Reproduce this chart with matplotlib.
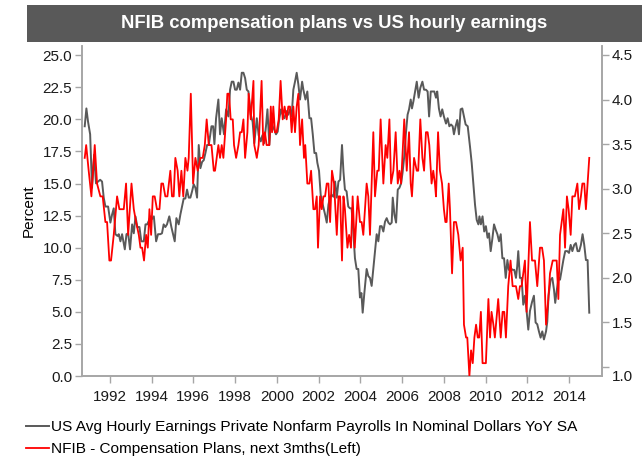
import matplotlib
matplotlib.use("Agg")
import matplotlib.pyplot as plt
from matplotlib.patches import Rectangle
from matplotlib.lines import Line2D
import matplotlib.transforms as mtransforms

plt.rcParams['font.family'] = ['Liberation Sans', 'DejaVu Sans']

title = "NFIB compensation plans vs US hourly earnings"
label_gray = "US Avg Hourly Earnings Private Nonfarm Payrolls In Nominal Dollars YoY SA"
label_red = "NFIB - Compensation Plans, next 3mths(Left)"
left_ylabel = "Percent"

year_ticks = [1992, 1994, 1996, 1998, 2000, 2002, 2004, 2006, 2008, 2010, 2012, 2014]
left_ticks = [0.0, 2.5, 5.0, 7.5, 10.0, 12.5, 15.0, 17.5, 20.0, 22.5, 25.0]
right_ticks = [1.0, 1.5, 2.0, 2.5, 3.0, 3.5, 4.0, 4.5]

# NFIB compensation plans (left axis)
red_years = [1990.80, 1990.87, 1990.99, 1991.12, 1991.28, 1991.39, 1991.55, 1991.66, 1991.79, 1991.87,
             1991.98, 1992.06, 1992.19, 1992.35, 1992.46, 1992.67, 1992.78, 1992.88, 1993.04, 1993.15,
             1993.26, 1993.39, 1993.47, 1993.55, 1993.64, 1993.74, 1993.82, 1993.90, 1993.98, 1994.06,
             1994.15, 1994.26, 1994.38, 1994.47, 1994.55, 1994.66, 1994.76, 1994.90, 1994.98, 1995.06,
             1995.14, 1995.25, 1995.33, 1995.43, 1995.52, 1995.62, 1995.72, 1995.78, 1995.88, 1995.99,
             1996.10, 1996.21, 1996.34, 1996.45, 1996.55, 1996.64, 1996.74, 1996.87, 1996.98, 1997.04,
             1997.20, 1997.28, 1997.36, 1997.44, 1997.57, 1997.63, 1997.71, 1997.79, 1997.89, 1997.95,
             1998.05, 1998.16, 1998.24, 1998.32, 1998.40, 1998.48, 1998.59, 1998.65, 1998.75, 1998.88,
             1998.92, 1999.04, 1999.13, 1999.27, 1999.35, 1999.43, 1999.51, 1999.64, 1999.71, 1999.77,
             1999.83, 1999.91, 1999.99, 2000.09, 2000.18, 2000.28, 2000.37, 2000.47, 2000.55, 2000.63,
             2000.71, 2000.79, 2000.87, 2000.95, 2001.03, 2001.11, 2001.21, 2001.30, 2001.36, 2001.46,
             2001.56, 2001.64, 2001.75, 2001.83, 2001.91, 2001.97, 2002.07, 2002.15, 2002.23, 2002.31,
             2002.39, 2002.47, 2002.55, 2002.64, 2002.74, 2002.87, 2002.95, 2003.03, 2003.12, 2003.19,
             2003.26, 2003.38, 2003.46, 2003.55, 2003.63, 2003.73, 2003.87, 2003.98, 2004.06, 2004.14,
             2004.30, 2004.38, 2004.46, 2004.62, 2004.70, 2004.81, 2004.88, 2004.97, 2005.10, 2005.21,
             2005.29, 2005.39, 2005.47, 2005.58, 2005.69, 2005.79, 2005.87, 2005.95, 2006.10, 2006.22,
             2006.33, 2006.41, 2006.47, 2006.57, 2006.70, 2006.77, 2006.87, 2006.97, 2007.05, 2007.14,
             2007.22, 2007.30, 2007.41, 2007.49, 2007.57, 2007.62, 2007.72, 2007.81, 2007.91, 2008.00,
             2008.07, 2008.13, 2008.23, 2008.29, 2008.39, 2008.48, 2008.58, 2008.69, 2008.80, 2008.90,
             2008.96, 2009.06, 2009.12, 2009.22, 2009.30, 2009.38, 2009.46, 2009.54, 2009.62, 2009.69,
             2009.77, 2009.85, 2010.01, 2010.13, 2010.21, 2010.28, 2010.37, 2010.44, 2010.60, 2010.72,
             2010.81, 2010.89, 2010.97, 2011.08, 2011.19, 2011.29, 2011.37, 2011.45, 2011.56, 2011.64,
             2011.72, 2011.88, 2011.96, 2012.12, 2012.22, 2012.36, 2012.47, 2012.60, 2012.70, 2012.79,
             2012.89, 2013.00, 2013.08, 2013.21, 2013.32, 2013.40, 2013.48, 2013.56, 2013.64, 2013.72,
             2013.80, 2013.89, 2013.97, 2014.07, 2014.15, 2014.27, 2014.39, 2014.47, 2014.56, 2014.63,
             2014.72, 2014.80, 2014.96]
red_vals = [17, 18, 16, 14, 18, 15, 14, 14, 12, 12,
            9, 9, 11, 14, 13, 13, 15, 11, 15, 13,
            12, 11, 10, 10, 9, 11, 10, 13, 11, 14,
            14, 13, 13, 15, 15, 14, 14, 16, 14, 14,
            17, 16, 14, 16, 14, 17, 16, 17, 22, 15,
            17, 16, 17, 17, 18, 20, 18, 18, 16, 16,
            18, 17, 18, 17, 20, 22, 22, 20, 20, 18,
            17, 18, 19, 19, 20, 17, 19, 22, 20, 23,
            18, 17, 18, 23, 18, 19, 18, 18, 21, 19,
            21, 19, 19, 20, 23, 20, 21, 20, 21, 21,
            19, 21, 19, 21, 22, 18, 20, 17, 18, 15,
            15, 16, 13, 13, 14, 10, 14, 13, 14, 14,
            15, 15, 12, 16, 15, 11, 14, 14, 9, 14,
            13, 10, 11, 10, 14, 10, 14, 12, 12, 11,
            15, 14, 11, 19, 14, 16, 16, 20, 15, 18,
            17, 20, 15, 16, 19, 15, 16, 15, 20, 16,
            19, 15, 14, 17, 16, 16, 20, 17, 16, 19,
            19, 18, 15, 16, 15, 14, 19, 16, 15, 13,
            12, 12, 15, 13, 8, 12, 12, 11, 9, 10,
            4, 3, 3, 0, 2, 1, 3, 4, 3, 3,
            5, 1, 1, 6, 3, 5, 4, 3, 6, 3,
            5, 5, 3, 7, 9, 7, 7, 7, 6, 7,
            7, 9, 5, 12, 9, 9, 7, 10, 10, 9,
            4, 6, 8, 9, 9, 9, 6, 11, 12, 13,
            10, 14, 13, 11, 14, 14, 15, 13, 14, 15,
            15, 13, 17]

# US average hourly earnings YoY (right axis)
gray_years = [1990.80, 1990.88, 1990.96, 1991.06, 1991.15, 1991.25, 1991.34, 1991.44, 1991.54, 1991.63,
              1991.71, 1991.79, 1991.92, 1992.03, 1992.11, 1992.19, 1992.27, 1992.37, 1992.43, 1992.51,
              1992.59, 1992.72, 1992.80, 1992.88, 1992.97, 1993.07, 1993.15, 1993.23, 1993.32, 1993.42,
              1993.51, 1993.63, 1993.71, 1993.79, 1993.87, 1993.95, 1994.02, 1994.11, 1994.22, 1994.31,
              1994.42, 1994.50, 1994.58, 1994.66, 1994.74, 1994.85, 1994.95, 1995.03, 1995.11, 1995.19,
              1995.30, 1995.38, 1995.46, 1995.54, 1995.62, 1995.70, 1995.78, 1995.86, 1995.94, 1996.02,
              1996.10, 1996.18, 1996.26, 1996.34, 1996.42, 1996.50, 1996.58, 1996.66, 1996.74, 1996.87,
              1996.95, 1997.01, 1997.09, 1997.20, 1997.28, 1997.36, 1997.47, 1997.57, 1997.68, 1997.76,
              1997.84, 1997.92, 1998.00, 1998.08, 1998.16, 1998.24, 1998.32, 1998.40, 1998.48, 1998.56,
              1998.64, 1998.75, 1998.84, 1998.92, 1999.04, 1999.13, 1999.23, 1999.31, 1999.39, 1999.48,
              1999.55, 1999.64, 1999.72, 1999.80, 1999.88, 1999.96, 2000.04, 2000.12, 2000.20, 2000.28,
              2000.36, 2000.47, 2000.55, 2000.63, 2000.71, 2000.79, 2000.87, 2000.95, 2001.03, 2001.11,
              2001.21, 2001.27, 2001.37, 2001.46, 2001.56, 2001.64, 2001.72, 2001.80, 2001.88, 2001.94,
              2002.02, 2002.10, 2002.20, 2002.31, 2002.39, 2002.47, 2002.55, 2002.63, 2002.71, 2002.79,
              2002.87, 2002.95, 2003.03, 2003.12, 2003.19, 2003.26, 2003.34, 2003.42, 2003.50, 2003.58,
              2003.66, 2003.74, 2003.82, 2003.90, 2003.98, 2004.05, 2004.11, 2004.19, 2004.30, 2004.38,
              2004.46, 2004.54, 2004.62, 2004.70, 2004.78, 2004.86, 2004.94, 2005.02, 2005.10, 2005.18,
              2005.26, 2005.34, 2005.42, 2005.50, 2005.55, 2005.63, 2005.71, 2005.79, 2005.87, 2005.95,
              2006.02, 2006.10, 2006.18, 2006.26, 2006.33, 2006.41, 2006.47, 2006.54, 2006.62, 2006.70,
              2006.79, 2006.87, 2006.97, 2007.05, 2007.14, 2007.22, 2007.29, 2007.37, 2007.46, 2007.54,
              2007.62, 2007.68, 2007.76, 2007.84, 2007.92, 2008.00, 2008.10, 2008.18, 2008.26, 2008.34,
              2008.42, 2008.48, 2008.56, 2008.64, 2008.72, 2008.80, 2008.88, 2008.96, 2009.04, 2009.14,
              2009.25, 2009.33, 2009.41, 2009.49, 2009.57, 2009.65, 2009.70, 2009.77, 2009.85, 2009.93,
              2010.01, 2010.09, 2010.16, 2010.24, 2010.32, 2010.40, 2010.48, 2010.56, 2010.64, 2010.72,
              2010.80, 2010.88, 2010.96, 2011.04, 2011.11, 2011.19, 2011.29, 2011.37, 2011.45, 2011.51,
              2011.56, 2011.64, 2011.72, 2011.80, 2011.88, 2011.96, 2012.04, 2012.12, 2012.22, 2012.31,
              2012.39, 2012.47, 2012.55, 2012.63, 2012.71, 2012.79, 2012.89, 2012.95, 2013.01, 2013.11,
              2013.19, 2013.27, 2013.33, 2013.41, 2013.49, 2013.56, 2013.64, 2013.72, 2013.81, 2013.91,
              2013.99, 2014.07, 2014.15, 2014.24, 2014.32, 2014.40, 2014.48, 2014.56, 2014.64, 2014.72,
              2014.80, 2014.88, 2014.96]
gray_vals = [3.70, 3.90, 3.75, 3.61, 3.01, 3.38, 3.06, 3.08, 3.10, 3.08,
             2.90, 2.80, 2.80, 2.62, 2.71, 2.78, 2.49, 2.47, 2.49, 2.41,
             2.49, 2.32, 2.49, 2.50, 2.32, 2.60, 2.50, 2.69, 2.57, 2.57,
             2.41, 2.41, 2.60, 2.60, 2.64, 2.69, 2.66, 2.69, 2.41, 2.49,
             2.49, 2.50, 2.60, 2.57, 2.60, 2.69, 2.57, 2.49, 2.41, 2.67,
             2.60, 2.71, 2.80, 2.89, 2.89, 2.99, 2.90, 2.90, 2.97, 3.05,
             3.01, 2.90, 3.49, 3.23, 3.30, 3.32, 3.40, 3.49, 3.49, 3.70,
             3.70, 3.50, 3.79, 4.00, 3.61, 3.79, 3.61, 3.89, 3.81, 4.11,
             4.20, 4.20, 4.11, 4.11, 4.19, 4.11, 4.30, 4.30, 4.24, 4.11,
             4.09, 3.83, 3.75, 3.51, 3.79, 3.60, 3.53, 3.60, 3.51, 3.70,
             3.89, 3.49, 3.79, 3.70, 3.66, 3.61, 3.64, 3.79, 3.89, 3.83,
             3.79, 3.87, 3.83, 3.89, 3.81, 4.11, 4.20, 4.30, 4.17, 4.00,
             4.20, 4.11, 4.00, 4.09, 3.79, 3.79, 3.61, 3.40, 3.40, 3.29,
             3.20, 2.93, 2.82, 2.71, 2.62, 2.82, 2.91, 2.93, 2.91, 3.08,
             2.90, 3.08, 3.10, 3.49, 3.19, 2.99, 2.97, 2.80, 2.78, 2.78,
             2.52, 2.22, 2.10, 2.10, 1.78, 1.83, 1.61, 1.83, 2.10, 2.02,
             2.00, 1.91, 2.10, 2.28, 2.49, 2.41, 2.58, 2.58, 2.52, 2.63,
             2.67, 2.62, 2.60, 2.62, 2.90, 2.71, 2.62, 2.99, 3.01, 3.06,
             3.18, 3.36, 3.62, 3.83, 3.89, 4.00, 3.90, 3.98, 4.09, 4.20,
             4.02, 4.13, 4.20, 4.11, 4.11, 4.09, 3.81, 4.09, 4.09, 4.09,
             4.02, 4.09, 3.90, 3.81, 3.89, 3.81, 3.73, 3.79, 3.70, 3.72,
             3.70, 3.61, 3.70, 3.77, 3.61, 3.89, 3.90, 3.81, 3.72, 3.70,
             3.47, 3.29, 3.05, 2.82, 2.65, 2.60, 2.69, 2.60, 2.69, 2.52,
             2.58, 2.45, 2.50, 2.30, 2.44, 2.60, 2.54, 2.49, 2.41, 2.49,
             2.22, 2.22, 2.00, 2.20, 2.09, 2.11, 2.09, 2.09, 2.00, 2.13,
             2.30, 2.00, 2.00, 1.70, 1.80, 1.63, 1.42, 1.63, 1.73, 1.80,
             1.50, 1.48, 1.40, 1.33, 1.40, 1.31, 1.40, 1.51, 1.80, 1.98,
             2.00, 1.87, 1.72, 1.87, 2.00, 1.98, 2.09, 2.20, 2.30, 2.30,
             2.28, 2.37, 2.30, 2.37, 2.39, 2.30, 2.30, 2.37, 2.49, 2.37,
             2.20, 2.20, 1.61]

W, H = 642, 461
fig = plt.figure(figsize=(W / 100, H / 100), dpi=100)

# title bar
fig.patches.append(Rectangle((27 / W, 1 - 42 / H), 1 - 27 / W, 37 / H,
                             transform=fig.transFigure, facecolor='#595959',
                             edgecolor='none', zorder=0))
fig.text(334 / W, 1 - 24 / H, title, color='white', fontsize=13.3,
         fontweight='bold', ha='center', va='center')

ax = fig.add_axes([82 / W, 1 - 376 / H, 520 / W, 330 / H])
ax2 = ax.twinx()

spine_col = '#A6A6A6'
for a in (ax, ax2):
    for s in a.spines.values():
        s.set_color(spine_col)
        s.set_linewidth(1.2)
    a.spines['top'].set_visible(False)
    a.patch.set_visible(False)

ax2.plot(gray_years, gray_vals, color='#595959', lw=1.4, zorder=2)
ax.plot(red_years, red_vals, color='#FF0000', lw=1.3, zorder=3)
ax.set_zorder(ax2.get_zorder() + 1)

ax.set_xlim(1990.67, 2015.57)
ax.set_ylim(0, 25.72)
ax2.set_ylim(0.90, 4.60)

ax.set_xticks(year_ticks)
ax.set_xticklabels([str(y) for y in year_ticks])
ax.set_yticks(left_ticks)
ax.set_yticklabels([f"{v:.1f}" for v in left_ticks])
ax2.set_yticks(right_ticks)
ax2.set_yticklabels([f"{v:.1f}" for v in right_ticks])

ax.tick_params(axis='both', direction='out', length=5, width=1, color=spine_col,
               labelsize=11, pad=2, labelcolor='#1a1a1a')
ax2.tick_params(axis='y', direction='out', length=5, width=1, color=spine_col,
                labelsize=11, pad=2, labelcolor='#1a1a1a')
ax.tick_params(axis='x', pad=5)

# bottom right label shifted down like the source
lbl = ax2.get_yticklabels()[0]
lbl.set_transform(lbl.get_transform() + mtransforms.ScaledTranslation(0, -6 / 72, fig.dpi_scale_trans))

ax.set_ylabel(left_ylabel, fontsize=11)
ax.yaxis.set_label_coords(-46 / 520, 0.5)

handles = [Line2D([], [], color='#595959', lw=1.4),
           Line2D([], [], color='#FF0000', lw=1.3)]
fig.legend(handles, [label_gray, label_red], loc='upper left',
           bbox_to_anchor=(26 / W, 1 - 420 / H), frameon=False, fontsize=11.1,
           handlelength=1.5, handletextpad=0.15, labelspacing=0.55, borderaxespad=0,
           borderpad=0)

fig.savefig('out.png', dpi=100)
